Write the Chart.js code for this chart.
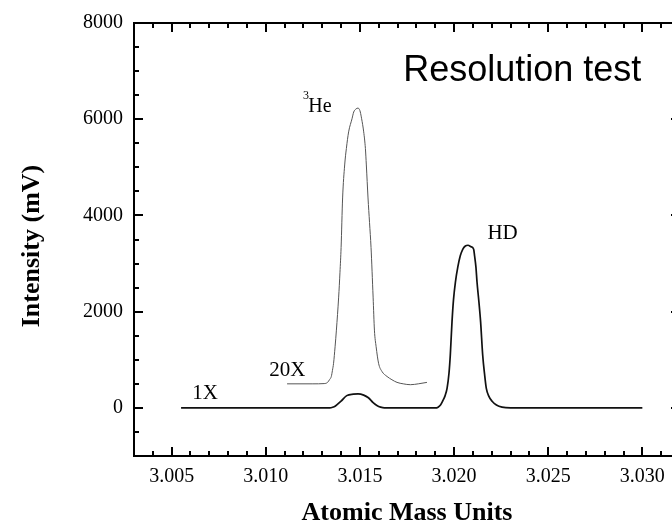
<!DOCTYPE html>
<html>
<head>
<meta charset="utf-8">
<title>Resolution test</title>
<script src="https://cdn.jsdelivr.net/npm/chart.js@4.4.1/dist/chart.umd.min.js"></script>
<style>
  html, body { margin: 0; padding: 0; background: #fff; overflow: hidden; }
  #wrap { width: 700px; height: 526px; position: relative; }
</style>
</head>
<body>
<div id="wrap"><canvas id="specChart"></canvas></div>
<script>
// 1X trace (3He bump + HD peak), mass in amu, intensity in mV
const mass1x = [3.0055, 3.0134, 3.01355, 3.0137, 3.0140, 3.0143, 3.01465, 3.0149, 3.0152, 3.01545, 3.0157, 3.0159,
  3.0161, 3.0163, 3.0190, 3.01915, 3.01928, 3.01939, 3.01952, 3.01963, 3.01973, 3.0198, 3.01989, 3.01997,
  3.02007, 3.0202, 3.02033, 3.02046, 3.0206, 3.02074, 3.0209, 3.02104, 3.02109, 3.02116, 3.02122, 3.02132,
  3.02141, 3.02152, 3.02162, 3.02171, 3.02185, 3.02202, 3.02225, 3.02255, 3.0230, 3.0300];
const signal1x = [0, 0, 12, 40, 140, 255, 285, 290, 265, 210, 110, 50,
  15, 0, 0, 15, 60, 138, 250, 412, 720, 1100, 1787, 2250,
  2611, 2930, 3161, 3297, 3365, 3380, 3350, 3297, 3161, 2930, 2611, 2200,
  1787, 1100, 700, 412, 240, 138, 60, 15, 0, 0];

// 20X trace of the 3He peak, offset by ~500 mV
const mass20x = [3.01113, 3.0125, 3.0131, 3.01328, 3.01339, 3.01348, 3.01354, 3.0136, 3.01368, 3.01375, 3.01387,
  3.01394, 3.0140, 3.01408, 3.01419, 3.01428, 3.0144, 3.01458, 3.01467, 3.01478, 3.0149, 3.01497, 3.01502,
  3.01509, 3.0152, 3.01529, 3.01534, 3.01543, 3.01551, 3.01559, 3.0157, 3.01577, 3.01586, 3.01599, 3.01617,
  3.01644, 3.0167, 3.01697, 3.0173, 3.01768, 3.0181, 3.01856];
const signal20x = [500, 500, 505, 530, 590, 653, 780, 927, 1270, 1616, 2302,
  2820, 3333, 4363, 5049, 5393, 5737, 6010, 6150, 6210, 6232, 6205, 6150,
  6010, 5737, 5393, 5049, 4363, 3850, 3333, 2302, 1616, 1272, 927, 757,
  653, 585, 530, 500, 482, 500, 530];

const massTicks = [3.005, 3.010, 3.015, 3.020, 3.025, 3.030];
const intensityTicks = [0, 2000, 4000, 6000, 8000];

const serif = '"Liberation Serif", "Times New Roman", serif';

const toPoints = (xs, ys) => xs.map((v, i) => ({ x: v, y: ys[i] }));

// frame, inward ticks on all four sides, and the text annotations
const frameTicks = {
  id: 'frameTicks',
  afterDraw(chart) {
    const { ctx, chartArea: a, scales: { x, y } } = chart;
    ctx.save();
    ctx.strokeStyle = '#000';
    ctx.lineWidth = 2;
    ctx.strokeRect(a.left, a.top, a.right - a.left, a.bottom - a.top);

    ctx.beginPath();
    for (let i = 4; i <= 31; i++) {
      const px = Math.round(x.getPixelForValue(3 + i / 1000));
      const len = i % 5 === 0 ? 9 : 5;
      ctx.moveTo(px, a.bottom); ctx.lineTo(px, a.bottom - len);
      ctx.moveTo(px, a.top); ctx.lineTo(px, a.top + len);
    }
    for (let v = -500; v < 8000; v += 500) {
      const py = Math.round(y.getPixelForValue(v));
      const len = v % 2000 === 0 ? 9 : 5;
      ctx.moveTo(a.left, py); ctx.lineTo(a.left + len, py);
      ctx.moveTo(a.right, py); ctx.lineTo(a.right - len, py);
    }
    ctx.stroke();

    ctx.fillStyle = '#000';
    ctx.textBaseline = 'alphabetic';
    ctx.textAlign = 'left';
    ctx.font = '21px ' + serif;
    ctx.fillText('1X', x.getPixelForValue(3.0061), y.getPixelForValue(179));
    ctx.fillText('20X', x.getPixelForValue(3.01019), y.getPixelForValue(653));
    ctx.fillText('HD', x.getPixelForValue(3.02177), y.getPixelForValue(3518));
    ctx.font = '20px ' + serif;
    ctx.fillText('He', x.getPixelForValue(3.01226), y.getPixelForValue(6150));
    ctx.font = '12px ' + serif;
    ctx.fillText('3', x.getPixelForValue(3.01198), y.getPixelForValue(6420));

    ctx.font = '36px "Liberation Sans", Arial, sans-serif';
    ctx.fillText('Resolution test', x.getPixelForValue(3.0173), y.getPixelForValue(6794));

    // y axis title
    ctx.translate(32, 246);
    ctx.rotate(-Math.PI / 2);
    ctx.textAlign = 'center';
    ctx.textBaseline = 'middle';
    ctx.font = 'bold 26px ' + serif;
    ctx.fillText('Intensity (mV)', 0, 0);
    ctx.restore();
  }
};

new Chart(document.getElementById('specChart'), {
  type: 'line',
  data: {
    datasets: [
      {
        label: '1X',
        data: toPoints(mass1x, signal1x),
        borderColor: '#111',
        borderWidth: 1.7,
        pointRadius: 0,
        cubicInterpolationMode: 'monotone'
      },
      {
        label: '20X',
        data: toPoints(mass20x, signal20x),
        borderColor: '#555',
        borderWidth: 1,
        pointRadius: 0,
        cubicInterpolationMode: 'monotone'
      }
    ]
  },
  options: {
    responsive: true,
    maintainAspectRatio: false,
    animation: false,
    events: [],
    layout: { padding: { top: 19, right: 20, bottom: 0, left: 0 } },
    plugins: { legend: { display: false }, tooltip: { enabled: false } },
    scales: {
      x: {
        type: 'linear',
        min: 3.003,
        max: 3.032,
        grid: { display: false, drawTicks: false },
        border: { display: false },
        afterBuildTicks: (s) => { s.ticks = massTicks.map(v => ({ value: v })); },
        afterFit: (s) => { s.height = 70; },
        ticks: {
          padding: 9,
          color: '#000',
          font: { family: serif, size: 20 },
          callback: (v) => Number(v).toFixed(3)
        },
        title: {
          display: true,
          text: 'Atomic Mass Units',
          color: '#000',
          padding: 0,
          font: { family: serif, size: 26, weight: 'bold', lineHeight: 1 }
        }
      },
      y: {
        type: 'linear',
        min: -1000,
        max: 8000,
        grid: { display: false, drawTicks: false },
        border: { display: false },
        afterBuildTicks: (s) => { s.ticks = intensityTicks.map(v => ({ value: v })); },
        afterFit: (s) => { s.width = 134; },
        ticks: {
          padding: 11,
          color: '#000',
          font: { family: serif, size: 20 },
          callback: (v) => String(v)
        }
      }
    }
  },
  plugins: [frameTicks]
});
</script>
</body>
</html>
